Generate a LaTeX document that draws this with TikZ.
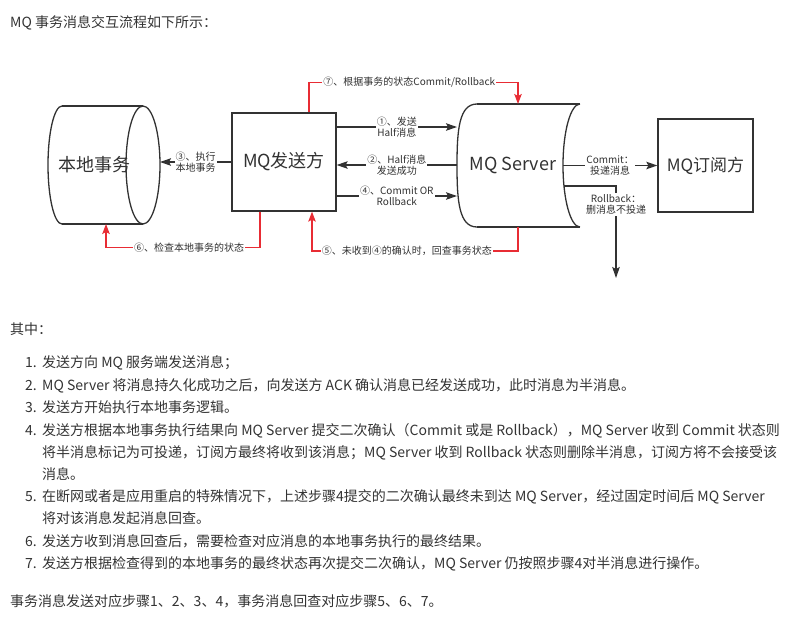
\documentclass[tikz,border=0pt]{standalone}
\usepackage{fontspec}
\setmainfont{Noto Sans CJK SC}
\usetikzlibrary{arrows.meta}
\definecolor{lineC}{RGB}{50,50,50}
\definecolor{redC}{RGB}{232,44,52}
\definecolor{txtC}{RGB}{51,51,51}
\begin{document}
\begin{tikzpicture}[x=1pt,y=-1pt,
  box/.style={draw=lineC, line width=1.3pt, inner sep=0pt, font=\fontsize{18}{20}\selectfont, text=lineC},
  big/.style={inner sep=0pt, font=\fontsize{18}{20}\selectfont, text=lineC},
  outline/.style={draw=lineC, line width=1.3pt},
  conn/.style={draw=lineC, line width=1.3pt, -{Stealth[length=11pt,width=7.5pt,inset=2pt]}},
  redconn/.style={draw=redC, line width=1.2pt, -{Stealth[length=10pt,width=7.5pt,inset=2pt]}},
  lbl/.style={fill=white, inner sep=1pt, align=center, font=\fontsize{10}{11.5}\selectfont, text=lineC},
  body/.style={anchor=base west, inner sep=0pt, font=\fontsize{14}{16}\selectfont, text=txtC},
]
\useasboundingbox (0,0) rectangle (795,625);

% title
\node[body] (title) at (10,27) {MQ 事务消息交互流程如下所示：};

% local transaction cylinder
\draw[outline] (62,106) -- (143,106) (62,224) -- (143,224);
\draw[outline] (143,165) ellipse [x radius=17, y radius=59];
\draw[outline] (62,106) .. controls (54.3,106) and (48,132.4) .. (48,165) .. controls (48,197.6) and (54.3,224) .. (62,224);
\node[big] (local) at (94,165) {本地事务};
\coordinate (localE) at (160,162);
\coordinate (localS) at (106,224);

% sender box
\node[box, minimum width=104pt, minimum height=98pt] (sender) at (284,162) {MQ发送方};

% MQ server shape
\draw[outline] (477,104) -- (580,104) (477,227) -- (580,227);
\draw[outline] (477,104) .. controls (459,104) and (457,130) .. (457,165.5) .. controls (457,201) and (459,227) .. (477,227);
\draw[outline] (580,104) .. controls (570.6,104) and (563,131.5) .. (563,165.5) .. controls (563,199.5) and (570.6,227) .. (580,227);
\node[big] (server) at (513,165) {MQ Server};
\coordinate (s1) at (457,127);
\coordinate (s2) at (457,165);
\coordinate (s4) at (457,196);
\coordinate (srvN) at (518,104);
\coordinate (srvS) at (518,227);
\coordinate (srvE) at (563,165.5);
\coordinate (srvE2) at (564,186);
\coordinate (rbEnd) at (616,278);

% subscriber box
\node[box, minimum width=95pt, minimum height=93pt, font=\fontsize{17}{19}\selectfont] (sub) at (705.5,165.5) {MQ订阅方};

% connectors
\draw[conn] (sender.west |- localE) -- (localE) node[lbl, midway] (l3) {③、执行\\本地事务};
\draw[conn] (sender.east |- s1) -- (s1) node[lbl, midway] (l1) {①、发送\\Half消息};
\draw[conn] (s2) -- (sender.east |- s2) node[lbl, midway] (l2) {②、Half消息\\发送成功};
\draw[conn] (sender.east |- s4) -- (s4) node[lbl, midway] (l4) {④、Commit OR\\Rollback};
\draw[conn] (srvE) -- (sub.west) node[lbl, midway] (lc) {Commit：\\投递消息};
\draw[conn] (srvE2) -| (rbEnd) node[lbl, pos=0.6] (lr) {Rollback：\\删消息不投递};

\draw[redconn] ([xshift=25pt]sender.north) -- ++(0,-30) -| (srvN) node[lbl, pos=0.24] (l7) {⑦、根据事务的状态Commit/Rollback};
\draw[redconn] (srvS) -- ++(0,24) -| ([xshift=28pt]sender.south) node[lbl, pos=0.27] (l5) {⑤、未收到④的确认时，回查事务状态};
\draw[redconn] ([xshift=-24pt]sender.south) -- ++(0,36) -| (localS) node[lbl, pos=0.23] (l6) {⑥、检查本地事务的状态};

% body text
\node[body] (h) at (10,334) {其中：};
\node[body] (n1) at (25,367) {1.};
\node[body] (t1) at (42,367) {发送方向 MQ 服务端发送消息；};
\node[body] (n2) at (25,390) {2.};
\node[body] (t2) at (42,390) {MQ Server 将消息持久化成功之后，向发送方 ACK 确认消息已经发送成功，此时消息为半消息。};
\node[body] (n3) at (25,412) {3.};
\node[body] (t3) at (42,412) {发送方开始执行本地事务逻辑。};
\node[body] (n4) at (25,435) {4.};
\node[body] (t4a) at (42,435) {发送方根据本地事务执行结果向 MQ Server 提交二次确认（Commit 或是 Rollback），MQ Server 收到 Commit 状态则};
\node[body] (t4b) at (42,457) {将半消息标记为可投递，订阅方最终将收到该消息；MQ Server 收到 Rollback 状态则删除半消息，订阅方将不会接受该};
\node[body] (t4c) at (42,479) {消息。};
\node[body] (n5) at (25,501) {5.};
\node[body] (t5a) at (42,501) {在断网或者是应用重启的特殊情况下，上述步骤4提交的二次确认最终未到达 MQ Server，经过固定时间后 MQ Server};
\node[body] (t5b) at (42,523) {将对该消息发起消息回查。};
\node[body] (n6) at (25,546) {6.};
\node[body] (t6) at (42,546) {发送方收到消息回查后，需要检查对应消息的本地事务执行的最终结果。};
\node[body] (n7) at (25,568) {7.};
\node[body] (t7) at (42,568) {发送方根据检查得到的本地事务的最终状态再次提交二次确认，MQ Server 仍按照步骤4对半消息进行操作。};
\node[body] (fin) at (10,606) {事务消息发送对应步骤1、2、3、4，事务消息回查对应步骤5、6、7。};
\end{tikzpicture}
\end{document}
